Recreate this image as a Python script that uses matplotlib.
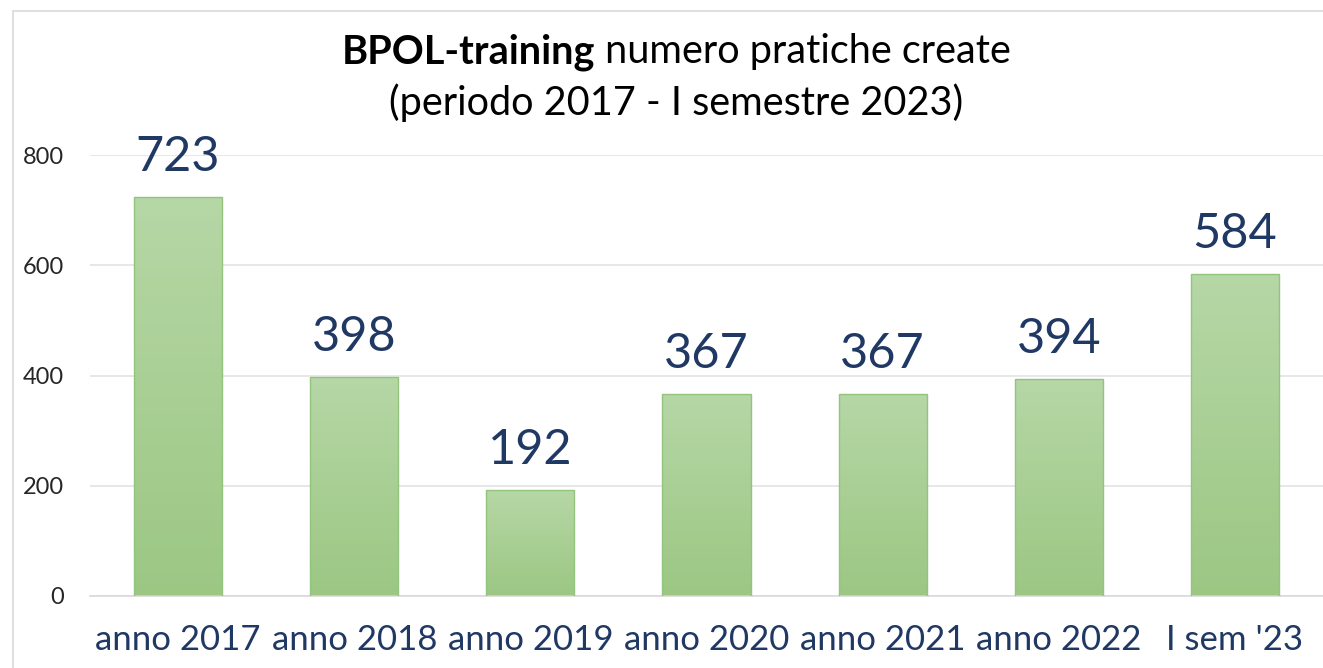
import numpy as np
import matplotlib.pyplot as plt
from matplotlib.patches import Rectangle
from matplotlib.colors import LinearSegmentedColormap

categories = ["anno 2017", "anno 2018", "anno 2019", "anno 2020", "anno 2021", "anno 2022", "I sem '23"]
values = [723, 398, 192, 367, 367, 394, 584]
yticks = [0, 200, 400, 600, 800]

navy = "#203864"
plt.rcParams["font.family"] = ["Lato", "DejaVu Sans"]

W, H = 1323, 668
fig = plt.figure(figsize=(W / 100, H / 100), dpi=100)
fig.patch.set_facecolor("white")

# chart frame
fig.add_artist(Rectangle((13 / W, -0.05), 1.2, 1 - 11 / H + 0.05, transform=fig.transFigure,
                         fill=False, edgecolor="#d9d9d9", linewidth=1.2))

ax = fig.add_axes([90 / W, 1 - 596 / H, 1 - 90 / W, (596 - 155) / H])
x = np.arange(len(categories))

cmap = LinearSegmentedColormap.from_list("g", ["#9cc783", "#b6d7a6"])
grad = np.linspace(0, 1, 256).reshape(-1, 1)
bars = ax.bar(x, values, width=0.5, color="none", edgecolor="#93c47d", linewidth=1.0, zorder=3)
for b, v in zip(bars, values):
    im = ax.imshow(grad, cmap=cmap, origin="lower", aspect="auto",
                   extent=[b.get_x(), b.get_x() + b.get_width(), 0, v], zorder=2)
    im.set_clip_path(b)
    ax.annotate(str(v), (b.get_x() + b.get_width() / 2, v), xytext=(0, 13),
                textcoords="offset points", ha="center", va="bottom",
                fontsize=35, color=navy, annotation_clip=False, zorder=4)
ax.set_xlim(-0.5, len(categories) - 0.5)
ax.set_ylim(0, 800)

ax.set_yticks(yticks)
ax.set_yticklabels([str(t) for t in yticks], fontsize=17, color="#262626")
ax.set_xticks(x)
ax.set_xticklabels(categories, fontsize=25, color=navy)
ax.tick_params(axis="both", length=0)
ax.tick_params(axis="y", pad=19)
ax.tick_params(axis="x", pad=20)
ax.grid(axis="y", color="#e3e3e3", linewidth=1.2, zorder=0)
ax.set_axisbelow(True)
for s in ["top", "right", "left"]:
    ax.spines[s].set_visible(False)
ax.spines["bottom"].set_color("#d9d9d9")
ax.spines["bottom"].set_linewidth(1.2)

# title with bold first part
renderer = fig.canvas.get_renderer()
tx, ty = 676 / W, 1 - 52 / H
t1 = fig.text(0, ty, "BPOL-training", fontsize=28.5, fontweight="bold", va="center", ha="left")
t2 = fig.text(0, ty, " numero pratiche create", fontsize=28.5, va="center", ha="left")
w1 = t1.get_window_extent(renderer).width / W
w2 = t2.get_window_extent(renderer).width / W
start = tx - (w1 + w2) / 2
t1.set_x(start)
t2.set_x(start + w1)
fig.text(tx, 1 - 103 / H, "(periodo 2017 - I semestre 2023)", fontsize=28.5, va="center", ha="center")

fig.savefig("out.png", dpi=100)
